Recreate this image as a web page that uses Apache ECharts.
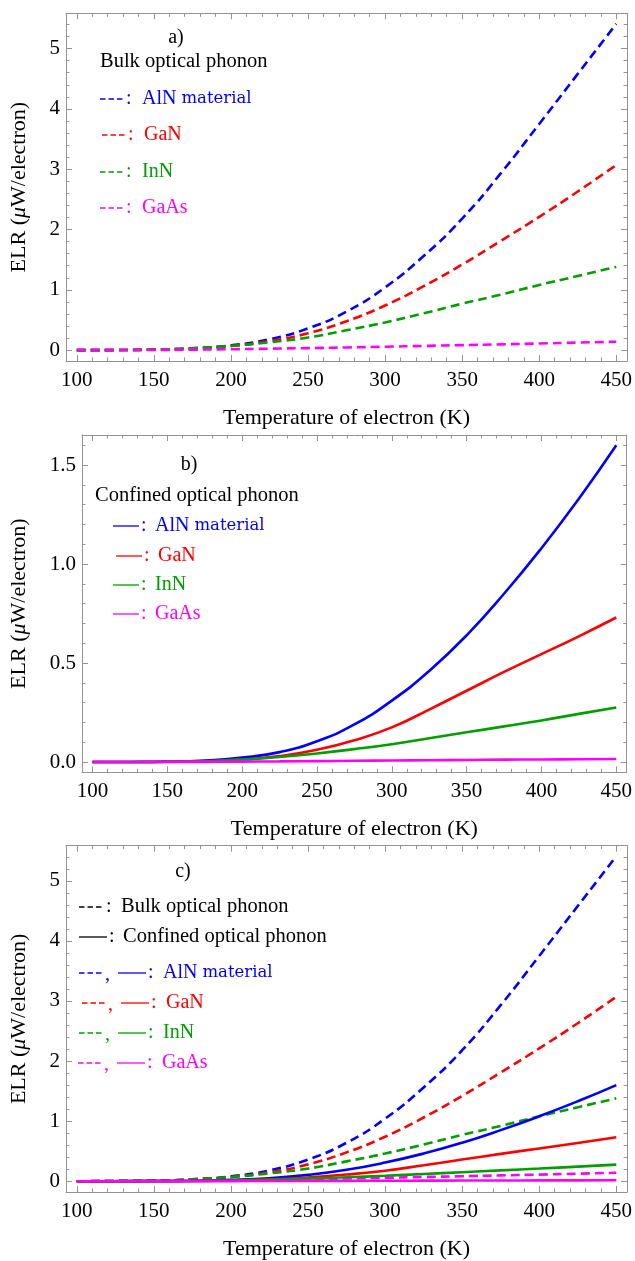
<!DOCTYPE html>
<html>
<head>
<meta charset="utf-8">
<script src="https://cdn.jsdelivr.net/npm/echarts@6/dist/echarts.min.js"></script>
<style>
  html, body { margin: 0; padding: 0; background: #fff; }
  #chart { width: 635px; height: 1261px; }
</style>
</head>
<body>
<div id="chart"></div>
<script>
// Electron temperature samples (K)
const temperatures = [100, 125, 150, 175, 200, 225, 250, 275, 300, 325, 350, 375, 400, 425, 450];

// Energy loss rate, bulk optical phonon (µW/electron)
const alnBulk  = [0, 0.002, 0.01, 0.03, 0.08, 0.18, 0.36, 0.64, 1.04, 1.56, 2.18, 2.93, 3.75, 4.58, 5.41];
const ganBulk  = [0, 0.001, 0.008, 0.03, 0.07, 0.15, 0.28, 0.48, 0.74, 1.06, 1.42, 1.81, 2.21, 2.63, 3.07];
const innBulk  = [0, 0.001, 0.008, 0.03, 0.07, 0.13, 0.21, 0.33, 0.46, 0.61, 0.77, 0.92, 1.08, 1.23, 1.38];
const gaasBulk = [0, 0.001, 0.003, 0.008, 0.015, 0.024, 0.034, 0.045, 0.057, 0.07, 0.083, 0.096, 0.11, 0.125, 0.14];

// Energy loss rate, confined optical phonon (µW/electron)
const alnConf  = [0, 0.0004, 0.002, 0.008, 0.022, 0.05, 0.105, 0.19, 0.31, 0.46, 0.64, 0.85, 1.08, 1.33, 1.6];
const ganConf  = [0, 0.0002, 0.001, 0.004, 0.012, 0.03, 0.062, 0.11, 0.175, 0.265, 0.36, 0.455, 0.545, 0.635, 0.73];
const innConf  = [0, 0.0001, 0.001, 0.004, 0.012, 0.025, 0.043, 0.065, 0.09, 0.12, 0.15, 0.18, 0.21, 0.243, 0.275];
const gaasConf = [0, 0, 0.0003, 0.0008, 0.0017, 0.003, 0.0045, 0.006, 0.0075, 0.009, 0.0105, 0.012, 0.013, 0.014, 0.015];

// Tick positions
const xMajorTicks = [100, 150, 200, 250, 300, 350, 400, 450];
const xMinorTicks = [];
for (let t = 100; t <= 450; t += 10) if (t % 50 !== 0) xMinorTicks.push(t);
const yMajorTicksBig = [0, 1, 2, 3, 4, 5];
const yMinorTicksBig = [];
for (let i = 1; i <= 27; i++) if (i % 5 !== 0) yMinorTicksBig.push(+(i * 0.2).toFixed(1));
const yMajorTicksSmall = [0, 0.5, 1.0, 1.5];
const yMinorTicksSmall = [];
for (let i = 1; i <= 16; i++) if (i % 5 !== 0) yMinorTicksSmall.push(+(i * 0.1).toFixed(1));

const FONT = 'Liberation Serif';
const FRAME = '#939393';
const BLUE = '#0000ff', RED = '#ff0000', GREEN = '#00a000', MAGENTA = '#ff00ff';

const panels = [
  { grid: { left: 64, right: 7, top: 13.3, height: 347.7 }, yMin: -0.18, yMax: 5.585,
    yMaj: yMajorTicksBig, yMin2: yMinorTicksBig, fmt: v => String(v), nameGap: 36 },
  { grid: { left: 81, right: 7, top: 435, height: 337.3 }, yMin: -0.052, yMax: 1.652,
    yMaj: yMajorTicksSmall, yMin2: yMinorTicksSmall, fmt: v => v.toFixed(1), nameGap: 52 },
  { grid: { left: 64, right: 7, top: 845.7, height: 348.6 }, yMin: -0.18, yMax: 5.585,
    yMaj: yMajorTicksBig, yMin2: yMinorTicksBig, fmt: v => String(v), nameGap: 36 }
];

const xAxes = [], yAxes = [], grids = [];
panels.forEach((p, g) => {
  grids.push(p.grid);
  const baseX = { type: 'value', gridIndex: g, min: 93, max: 457, splitLine: { show: false } };
  const baseY = { type: 'value', gridIndex: g, min: p.yMin, max: p.yMax, splitLine: { show: false } };
  const line = { show: true, onZero: false, lineStyle: { color: FRAME, width: 1 } };
  const noLine = { show: false, onZero: false };
  const tick = (vals, len) => ({ show: true, inside: true, length: len, customValues: vals,
                                 lineStyle: { color: FRAME, width: 1 } });
  // bottom: frame, major ticks with labels and title
  xAxes.push(Object.assign({}, baseX, {
    position: 'bottom', axisLine: line, axisTick: tick(xMajorTicks, 6),
    axisLabel: { show: true, customValues: xMajorTicks, margin: 9, color: '#000',
                 fontFamily: FONT, fontSize: 21 },
    name: 'Temperature of electron (K)', nameLocation: 'middle', nameGap: 46,
    nameTextStyle: { fontFamily: FONT, fontSize: 22, color: '#000' }
  }));
  xAxes.push(Object.assign({}, baseX, { position: 'bottom', axisLine: noLine,
    axisTick: tick(xMinorTicks, 3.5), axisLabel: { show: false } }));
  xAxes.push(Object.assign({}, baseX, { position: 'top', axisLine: line,
    axisTick: tick(xMajorTicks, 6), axisLabel: { show: false } }));
  xAxes.push(Object.assign({}, baseX, { position: 'top', axisLine: noLine,
    axisTick: tick(xMinorTicks, 3.5), axisLabel: { show: false } }));

  yAxes.push(Object.assign({}, baseY, {
    position: 'left', axisLine: line, axisTick: tick(p.yMaj, 6),
    axisLabel: { show: true, customValues: p.yMaj, margin: 6, color: '#000',
                 fontFamily: FONT, fontSize: 21, formatter: p.fmt },
    name: 'ELR ({i|μ}W/electron)', nameLocation: 'middle', nameGap: p.nameGap,
    nameTextStyle: { fontFamily: FONT, fontSize: 22, color: '#000',
                     rich: { i: { fontFamily: FONT, fontSize: 22, fontStyle: 'italic', color: '#000' } } }
  }));
  yAxes.push(Object.assign({}, baseY, { position: 'left', axisLine: noLine,
    axisTick: tick(p.yMin2, 3.5), axisLabel: { show: false } }));
  yAxes.push(Object.assign({}, baseY, { position: 'right', axisLine: line,
    axisTick: tick(p.yMaj, 6), axisLabel: { show: false } }));
  yAxes.push(Object.assign({}, baseY, { position: 'right', axisLine: noLine,
    axisTick: tick(p.yMin2, 3.5), axisLabel: { show: false } }));
});

function curve(panel, values, color, dashed) {
  return {
    type: 'line', xAxisIndex: panel * 4, yAxisIndex: panel * 4,
    data: temperatures.map((t, i) => [t, values[i]]),
    showSymbol: false, smooth: 0.5, silent: true,
    lineStyle: { color, width: 2.6, type: dashed ? [9, 5] : 'solid' }
  };
}

const series = [
  curve(0, alnBulk, BLUE, true), curve(0, ganBulk, RED, true),
  curve(0, innBulk, GREEN, true), curve(0, gaasBulk, MAGENTA, true),
  curve(1, alnConf, BLUE, false), curve(1, ganConf, RED, false),
  curve(1, innConf, GREEN, false), curve(1, gaasConf, MAGENTA, false),
  curve(2, alnBulk, BLUE, true), curve(2, ganBulk, RED, true),
  curve(2, innBulk, GREEN, true), curve(2, gaasBulk, MAGENTA, true),
  curve(2, alnConf, BLUE, false), curve(2, ganConf, RED, false),
  curve(2, innConf, GREEN, false), curve(2, gaasConf, MAGENTA, false)
];

// In-plot annotations
const graphics = [];
function txt(x, y, text, color, size, align) {
  graphics.push({ type: 'text', silent: true, style: {
    x, y, text, fill: color, font: `${size || 20}px "${FONT}"`,
    textAlign: align || 'left', textVerticalAlign: 'middle', verticalAlign: 'middle'
  } });
}
function nameTxt(x, y, name, color) {
  if (name === 'AlN material') {
    graphics.push({ type: 'text', silent: true, style: {
      x, y, text: '{a|AlN }{b|material}', fill: color, textVerticalAlign: 'middle', verticalAlign: 'middle',
      rich: { a: { fontFamily: FONT, fontSize: 20, fill: color, color },
              b: { fontFamily: 'DejaVu Serif', fontSize: 16.5, fill: color, color } }
    } });
  } else {
    txt(x, y, name, color, 20);
  }
}
function seg(x1, x2, y, color, dashed) {
  graphics.push({ type: 'line', silent: true, shape: { x1, y1: y, x2, y2: y },
    style: { stroke: color, lineWidth: dashed ? 1.6 : 1.3, lineDash: dashed ? [5.5, 3] : null } });
}

// panel a
txt(176, 38, 'a)', '#000', 20, 'center');
txt(100, 62, 'Bulk optical phonon', '#000', 20.5);
[[99, 'AlN material', BLUE, 0], [135, 'GaN', RED, 2], [172, 'InN', GREEN, 0], [208, 'GaAs', MAGENTA, 0]]
  .forEach(([y, n, c, dx]) => { seg(100 + dx, 124 + dx, y, c, true); txt(126 + dx, y, ':', c, 20); nameTxt(142 + dx, y, n, c); });

// panel b
txt(189, 465, 'b)', '#000', 20, 'center');
txt(95, 496, 'Confined optical phonon', '#000', 20.5);
[[526, 'AlN material', BLUE, 0], [556, 'GaN', RED, 3], [585, 'InN', GREEN, 0], [614, 'GaAs', MAGENTA, 0]]
  .forEach(([y, n, c, dx]) => { seg(113 + dx, 139 + dx, y, c, false); txt(141 + dx, y, ':', c, 20); nameTxt(155 + dx, y, n, c); });

// panel c
txt(183, 872, 'c)', '#000', 20, 'center');
seg(79, 104, 907, '#000', true); txt(106, 907, ':', '#000', 20); txt(121, 907, 'Bulk optical phonon', '#000', 20.5);
seg(79, 107, 937, '#000', false); txt(109, 937, ':', '#000', 20); txt(123, 937, 'Confined optical phonon', '#000', 20.5);
[[973, 'AlN material', BLUE, 0], [1003, 'GaN', RED, 3], [1033, 'InN', GREEN, 0], [1063, 'GaAs', MAGENTA, -1]]
  .forEach(([y, n, c, dx]) => {
    seg(79 + dx, 103 + dx, y, c, true); txt(105 + dx, y + 2, ',', c, 20);
    seg(118 + dx, 146 + dx, y, c, false); txt(148 + dx, y, ':', c, 20); nameTxt(163 + dx, y, n, c);
  });

const chart = echarts.init(document.getElementById('chart'), null, { renderer: 'canvas' });
chart.setOption({
  animation: false,
  backgroundColor: '#fff',
  grid: grids,
  xAxis: xAxes,
  yAxis: yAxes,
  series,
  graphic: graphics
});
</script>
</body>
</html>
